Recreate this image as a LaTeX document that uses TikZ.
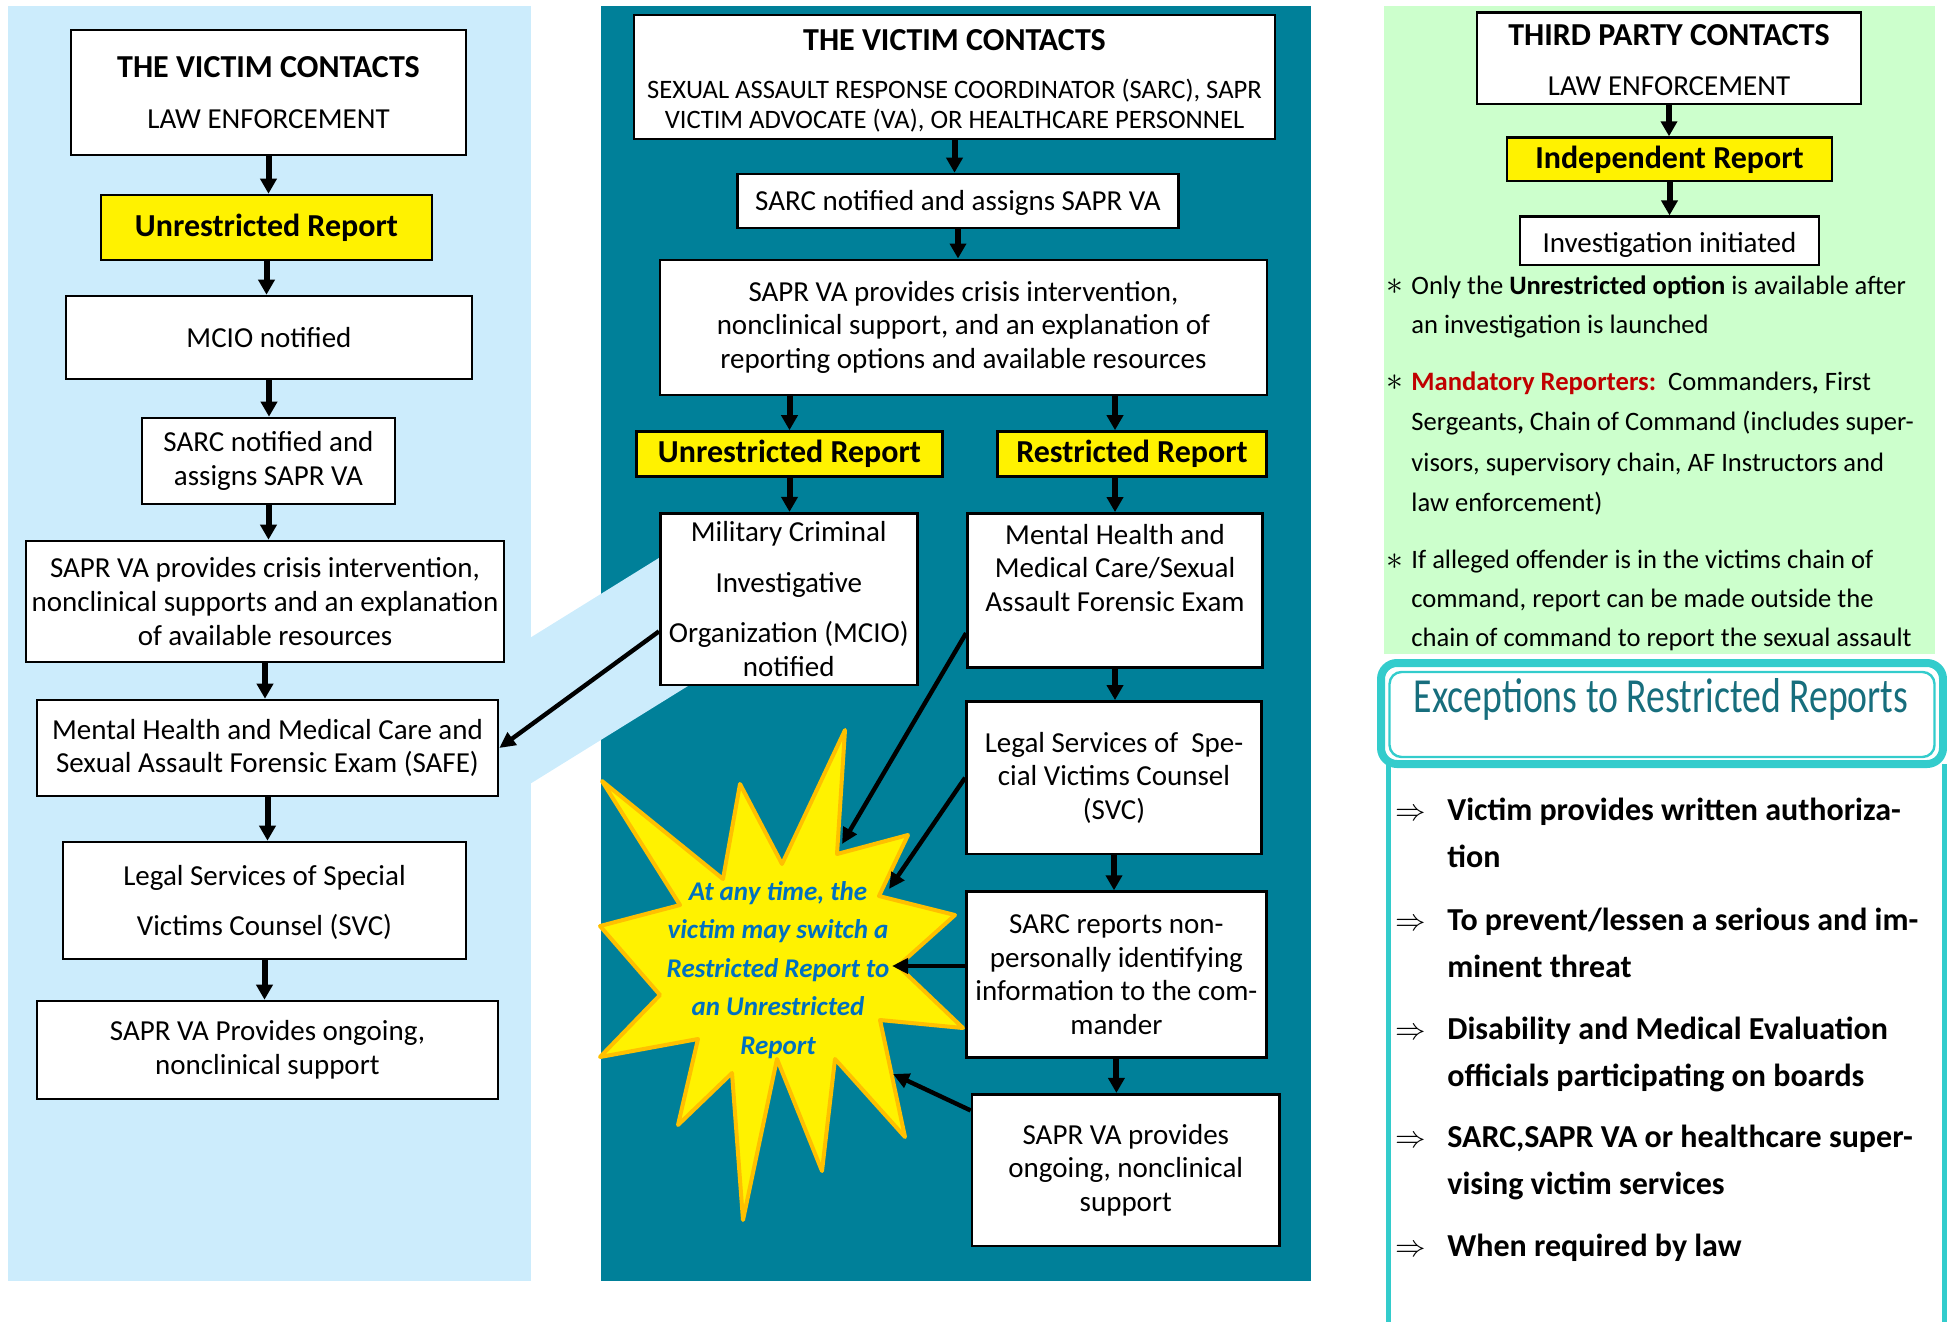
\documentclass[tikz,border=0pt]{standalone}
\usepackage{fontspec}
\setmainfont{Carlito}
\usepackage{graphicx}
\usetikzlibrary{arrows.meta,calc}

\definecolor{paleblue}{RGB}{204,236,252}
\definecolor{deepteal}{RGB}{0,128,153}
\definecolor{palegreen}{RGB}{204,255,204}
\definecolor{starorange}{RGB}{255,192,0}
\definecolor{starblue}{RGB}{0,112,192}
\definecolor{rimteal}{RGB}{51,204,204}
\definecolor{titleteal}{RGB}{23,110,125}
\definecolor{darkred}{RGB}{192,0,0}

\tikzset{
  flowbox/.style={draw, line width=1.3pt, fill=white, align=center, inner sep=1pt,
    font=\fontsize{14.5}{16.8}\selectfont},
  reportbox/.style={flowbox, fill=yellow, font=\bfseries\fontsize{16}{19}\selectfont},
  downarrow/.style={line width=3pt, -{Triangle[width=8pt,length=7.5pt]}},
  sidearrow/.style={line width=2.2pt, -{Triangle[width=7.5pt,length=8pt]}},
  notetext/.style={align=left, inner sep=0pt, anchor=north west, font=\fontsize{13.3}{19.5}\selectfont},
  notemark/.style={inner sep=0pt, font=\fontsize{13}{13}\selectfont},
  exceptext/.style={align=left, inner sep=0pt, anchor=north west, font=\bfseries\fontsize{16}{23.5}\selectfont},
  excepmark/.style={inner sep=0pt, font=\fontsize{12}{12}\selectfont},
}
\newcommand{\titleline}[1]{{\bfseries\fontsize{16}{19}\selectfont #1}}
\newcommand{\notestar}{\scalebox{1.4}{$\ast$}}
\newcommand{\exceparrow}{\scalebox{1.27}{$\Rightarrow$}}

\begin{document}
\begin{tikzpicture}[x=0.5pt, y=-0.5pt]
    \useasboundingbox (0,0) rectangle (1947,1322);

    % panels
    \fill[paleblue] (8,6) rectangle (531,1281);
    \fill[deepteal] (601,6) rectangle (1311,1281);
    \fill[palegreen] (1384,6) rectangle (1935,654);
    \fill[paleblue] (525,641) -- (700,532.5) -- (700,678.5) -- (525,787) -- cycle;

    % star
    \filldraw[fill=yellow, draw=starorange, line width=2pt, line join=round]
      (845,730) -- (837,854) -- (908,835) -- (879,896) -- (955,915) -- (898,966)
      -- (963,1028) -- (880,1020) -- (905,1137) -- (835,1059) -- (822,1171)
      -- (777,1059) -- (743,1220) -- (732,1073) -- (678,1125) -- (698,1039)
      -- (600,1057) -- (660,995) -- (600,926) -- (680,905) -- (602,781)
      -- (723,879) -- (740,784) -- (782,864) -- cycle;
    \node[font=\bfseries\itshape\fontsize{13.5}{19.25}\selectfont, text=starblue, align=center, inner sep=0pt]
      (switchnote) at (778,970) {At any time, the\\victim may switch a\\Restricted Report to\\an Unrestricted\\Report};
    \coordinate (hitmh) at (842,844);
    \coordinate (hitlegal) at (889,889);
    \coordinate (hitsarc) at (892,966);
    \coordinate (hitongoing) at (893,1074);

    % left column
    \node[flowbox, minimum width=197.5pt, minimum height=62.5pt] (leftcontact) at (268.5,92.5)
      {\titleline{THE VICTIM CONTACTS}\\[9pt]LAW ENFORCEMENT};
    \node[reportbox, minimum width=165.5pt, minimum height=32.5pt] (leftunres) at (266.5,227.5) {Unrestricted Report};
    \node[flowbox, minimum width=203pt, minimum height=41.5pt] (leftmcio) at (269,337.5) {MCIO notified};
    \node[flowbox, minimum width=126.5pt, minimum height=43pt] (leftsarc) at (268.5,461) {SARC notified and\\assigns SAPR VA};
    \node[flowbox, minimum width=239pt, minimum height=60.5pt] (leftcrisis) at (265,601.5)
      {SAPR VA provides crisis intervention,\\nonclinical supports and an explanation\\of available resources};
    \node[flowbox, minimum width=230.5pt, minimum height=48pt] (leftsafe) at (267.5,748)
      {Mental Health and Medical Care and\\Sexual Assault Forensic Exam (SAFE)};
    \node[flowbox, minimum width=201.5pt, minimum height=58.5pt] (leftlegal) at (264.5,900.5)
      {\rule{0pt}{12pt}Legal Services of Special\\[8.5pt]Victims Counsel (SVC)};
    \node[flowbox, minimum width=230.5pt, minimum height=49pt] (leftongoing) at (267.5,1050)
      {SAPR VA Provides ongoing,\\nonclinical support};

    \draw[downarrow] (leftcontact.south) -- (leftcontact.south |- leftunres.north);
    \draw[downarrow] (leftunres.south) -- (leftunres.south |- leftmcio.north);
    \draw[downarrow] (leftmcio.south) -- (leftmcio.south |- leftsarc.north);
    \draw[downarrow] (leftsarc.south) -- (leftsarc.south |- leftcrisis.north);
    \draw[downarrow] (leftcrisis.south) -- (leftcrisis.south |- leftsafe.north);
    \draw[downarrow] (leftsafe.south) -- (leftsafe.south |- leftlegal.north);
    \draw[downarrow] (leftlegal.south) -- (leftlegal.south |- leftongoing.north);

    % middle column
    \node[flowbox, minimum width=320.5pt, minimum height=62pt, font=\fontsize{13.3}{15}\selectfont] (midcontact) at (954.5,77)
      {\rule{0pt}{14.5pt}\titleline{THE VICTIM CONTACTS}\\[9pt]SEXUAL ASSAULT RESPONSE COORDINATOR (SARC), SAPR\\VICTIM ADVOCATE (VA), OR HEALTHCARE PERSONNEL};
    \node[flowbox, minimum width=220.5pt, minimum height=27pt, text height=12pt] (midsarc) at (958,201) {SARC notified and assigns SAPR VA};
    \node[flowbox, minimum width=303.5pt, minimum height=67.5pt] (midcrisis) at (963.5,327.3)
      {SAPR VA provides crisis intervention,\\nonclinical support, and an explanation of\\reporting options and available resources};
    \node[reportbox, minimum width=153pt, minimum height=22.5pt] (midunres) at (789.5,454) {Unrestricted Report};
    \node[reportbox, minimum width=134.3pt, minimum height=22.5pt] (midres) at (1132,454) {Restricted Report};
    \node[flowbox, minimum width=128.5pt, minimum height=85.8pt] (midmcio) at (788.8,599)
      {Military Criminal\\[8.5pt]Investigative\\[8.5pt]Organization (MCIO)\\notified};
    \node[flowbox, minimum width=147.6pt, minimum height=77pt] (midhealth) at (1115,590.4)
      {Mental Health and\\Medical Care/Sexual\\Assault Forensic Exam\\[6pt]\mbox{}};
    \node[flowbox, minimum width=147.6pt, minimum height=76.3pt] (midlegal) at (1114,777.7)
      {Legal Services of\ \ Spe-\\cial Victims Counsel\\(SVC)};
    \node[flowbox, minimum width=150pt, minimum height=83pt] (midsarcrep) at (1116.4,974.6)
      {SARC reports non-\\personally identifying\\information to the com-\\mander};
    \node[flowbox, minimum width=153.8pt, minimum height=75.8pt] (midongoing) at (1125.8,1170)
      {SAPR VA provides\\ongoing, nonclinical\\support};

    \draw[downarrow] (midcontact.south) -- (midcontact.south |- midsarc.north);
    \draw[downarrow] (midsarc.south) -- (midsarc.south |- midcrisis.north);
    \draw[downarrow] (midcrisis.south -| midunres.north) -- (midunres.north);
    \draw[downarrow] (midcrisis.south -| midhealth.north) -- (midhealth.north |- midres.north);
    \draw[downarrow] (midunres.south) -- (midunres.south |- midmcio.north);
    \draw[downarrow] (midres.south -| midhealth.north) -- (midhealth.north);
    \draw[downarrow] (midhealth.south) -- (midhealth.south |- midlegal.north);
    \draw[downarrow] (midlegal.south) -- (midlegal.south |- midsarcrep.north);
    \draw[downarrow] (midsarcrep.south) -- (midsarcrep.south |- midongoing.north);

    \draw[sidearrow] (midmcio.194) -- (leftsafe.east);
    \draw[sidearrow] (midhealth.196) -- (hitmh);
    \draw[sidearrow] (midlegal.west) -- (hitlegal);
    \draw[sidearrow] (midsarcrep.west |- hitsarc) -- (hitsarc);
    \draw[sidearrow] (midongoing.159) -- (hitongoing);

    % right column
    \node[flowbox, minimum width=192pt, minimum height=45.7pt] (thirdcontact) at (1669,58.3)
      {\rule{0pt}{12.5pt}\titleline{THIRD PARTY CONTACTS}\\[8pt]LAW ENFORCEMENT};
    \node[reportbox, minimum width=162.5pt, minimum height=21.7pt] (indepreport) at (1669.5,159.3) {Independent Report};
    \node[flowbox, minimum width=149.5pt, minimum height=24.2pt, text height=14pt] (investinit) at (1669.5,240.9) {Investigation initiated};
    \draw[downarrow] (thirdcontact.south) -- (thirdcontact.south |- indepreport.north);
    \draw[downarrow] (indepreport.south) -- (indepreport.south |- investinit.north);

    \node[notemark] (markonly) at (1395,287) {\notestar};
    \node[notetext] (noteonly) at (1411,275)
      {Only the \textbf{Unrestricted option} is available after\\an investigation is launched};
    \node[notemark] (markmandatory) at (1395,383) {\notestar};
    \node[notetext, font=\fontsize{13.3}{20.3}\selectfont] (notemandatory) at (1411,371)
      {\textcolor{darkred}{\textbf{Mandatory Reporters:}}\ \ Commanders\textbf{,} First\\Sergeants\textbf{,} Chain of Command (includes super-\\visors, supervisory chain, AF Instructors and\\law enforcement)};
    \node[notemark] (markoffender) at (1395,562) {\notestar};
    \node[notetext] (noteoffender) at (1411,550)
      {If alleged offender is in the victims chain of\\command, report can be made outside the\\chain of command to report the sexual assault};

    % exceptions
    \draw[rimteal, line width=4pt, rounded corners=8pt] (1381,663) rectangle (1943,764);
    \draw[rimteal, line width=1.2pt, rounded corners=6pt] (1389.5,672) rectangle (1934.5,757);
    \draw[rimteal, line width=2.5pt] (1388.5,764) -- (1388.5,1322);
    \draw[rimteal, line width=2.5pt] (1944.5,764) -- (1944.5,1322);
    \node[font=\fontsize{24.5}{28}\selectfont, text=titleteal, inner sep=0pt] (excepttitle) at (1661,699)
      {\scalebox{0.77}[1]{Exceptions to Restricted Reports}};

    \node[excepmark] (markwritten) at (1411,815) {\exceparrow};
    \node[exceptext] (excwritten) at (1447,798) {Victim provides written authoriza-\\tion};
    \node[excepmark] (markthreat) at (1411,925) {\exceparrow};
    \node[exceptext] (excthreat) at (1447,908) {To prevent/lessen a serious and im-\\minent threat};
    \node[excepmark] (markboards) at (1411,1034) {\exceparrow};
    \node[exceptext] (excboards) at (1447,1017) {Disability and Medical Evaluation\\officials participating on boards};
    \node[excepmark] (marksupervise) at (1411,1142) {\exceparrow};
    \node[exceptext] (excsupervise) at (1447,1125) {SARC,SAPR VA or healthcare super-\\vising victim services};
    \node[excepmark] (marklaw) at (1411,1251) {\exceparrow};
    \node[exceptext] (exclaw) at (1447,1234) {When required by law};
\end{tikzpicture}
\end{document}
